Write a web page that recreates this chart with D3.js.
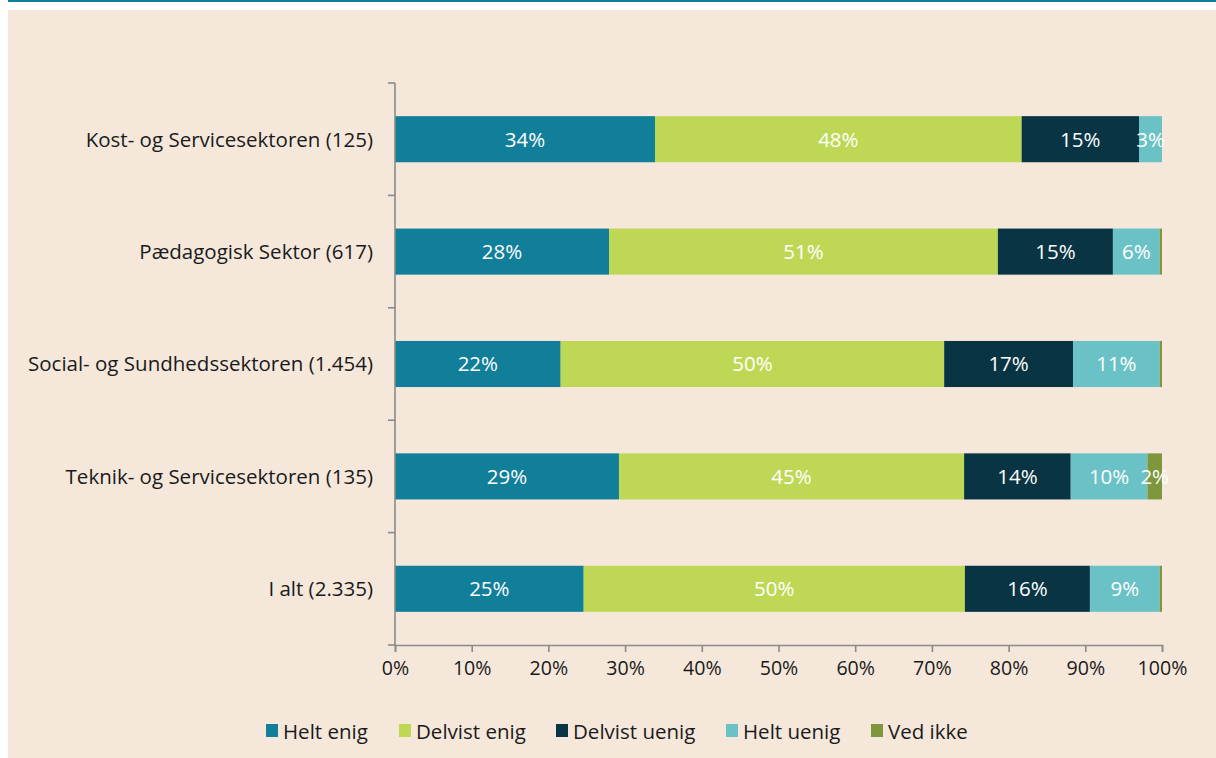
<!doctype html>
<html>
  <head>
    <meta charset="utf-8">
    <script src="https://cdn.jsdelivr.net/npm/d3@7/dist/d3.min.js"></script>
    <style>
      body { margin: 0; background: #fff; }
      text { font-family: "Open Sans", "Noto Sans", sans-serif; }
    </style>
  </head>
  <body>
    <svg width="1216" height="758"></svg>

    <script type="text/javascript">

        var categories = ["Kost- og Servicesektoren (125)", "Pædagogisk Sektor (617)",
            "Social- og Sundhedssektoren (1.454)", "Teknik- og Servicesektoren (135)", "I alt (2.335)"];
        var seriesNames = ["Helt enig", "Delvist enig", "Delvist uenig", "Helt uenig", "Ved ikke"];

        // percent per category
        var heltEnig     = [33.9, 27.9, 21.6, 29.2, 24.6];
        var delvistEnig  = [47.8, 50.7, 50.0, 45.0, 49.7];
        var delvistUenig = [15.3, 15.0, 16.8, 13.9, 16.3];
        var heltUenig    = [3.0, 6.1, 11.3, 10.0, 9.1];
        var vedIkke      = [0, 0.3, 0.3, 1.9, 0.3];

        var xTicks = [0, 10, 20, 30, 40, 50, 60, 70, 80, 90, 100];

        var colors = ["#117e9a", "#bed856", "#083443", "#6ac2c6", "#7f973c"];

        var svg = d3.select("svg");

        // frame: teal rule on top, beige panel
        svg.append("rect").attr("x", 8).attr("y", 0).attr("width", 1208).attr("height", 2).attr("fill", "#0e7f9a");
        svg.append("rect").attr("x", 8).attr("y", 10).attr("width", 1208).attr("height", 748).attr("fill", "#f5e8db");

        var rows = categories.map(function(c, i) {
            return { cat: c, "Helt enig": heltEnig[i], "Delvist enig": delvistEnig[i],
                "Delvist uenig": delvistUenig[i], "Helt uenig": heltUenig[i], "Ved ikke": vedIkke[i] };
        });
        var stacked = d3.stack().keys(seriesNames)(rows);

        var x = d3.scaleLinear().domain([0, 100]).range([395, 1162]);
        var y = d3.scaleBand().domain(categories).range([83, 645])
            .paddingInner(0.59).paddingOuter(0.295);
        var color = d3.scaleOrdinal().domain(seriesNames).range(colors);

        var layers = svg.append("g").selectAll("g")
            .data(stacked)
            .join("g")
            .attr("fill", d => color(d.key));

        layers.selectAll("rect")
            .data(d => d)
            .join("rect")
            .attr("x", d => x(d[0]))
            .attr("y", d => y(d.data.cat))
            .attr("width", d => x(d[1]) - x(d[0]))
            .attr("height", y.bandwidth());

        layers.selectAll("text")
            .data(d => d.filter(v => v[1] - v[0] >= 1))
            .join("text")
            .attr("x", d => (x(d[0]) + x(d[1])) / 2)
            .attr("y", d => y(d.data.cat) + y.bandwidth() / 2)
            .attr("dy", "0.36em")
            .attr("text-anchor", "middle")
            .attr("fill", "#fff")
            .style("font-size", "20.5px")
            .text(d => Math.round(d[1] - d[0]) + "%");

        // x axis
        var xAxis = svg.append("g")
            .attr("transform", "translate(0,645)")
            .call(d3.axisBottom(x).tickValues(xTicks).tickSize(7).tickSizeOuter(7)
                .tickFormat(d => d + "%"));
        xAxis.selectAll("path, line").attr("stroke", "#8a8a8a").attr("stroke-width", 1.6);
        xAxis.selectAll("text").attr("fill", "#1a1a1a").attr("dy", "1.0em").style("font-size", "19.6px");

        // y axis with ticks on the band boundaries
        var step = y.step();
        var bounds = d3.range(categories.length + 1).map(i => y(categories[0]) - step * y.paddingInner() / 2 + i * step);
        var yAxis = svg.append("g");
        yAxis.append("line")
            .attr("x1", x(0)).attr("x2", x(0))
            .attr("y1", bounds[0]).attr("y2", bounds[bounds.length - 1])
            .attr("stroke", "#8a8a8a").attr("stroke-width", 1.6);
        yAxis.selectAll(".tick")
            .data(bounds)
            .join("line")
            .attr("x1", x(0) - 7).attr("x2", x(0))
            .attr("y1", d => d).attr("y2", d => d)
            .attr("stroke", "#8a8a8a").attr("stroke-width", 1.6);
        yAxis.selectAll("text")
            .data(categories)
            .join("text")
            .attr("x", 373)
            .attr("y", d => y(d) + y.bandwidth() / 2)
            .attr("dy", "0.36em")
            .attr("text-anchor", "end")
            .attr("fill", "#1a1a1a")
            .style("font-size", "20.5px")
            .text(d => d);

        // legend
        var legendX = [266, 399, 556, 726, 871];
        var legend = svg.append("g").selectAll("g")
            .data(seriesNames)
            .join("g")
            .attr("transform", (d, i) => `translate(${legendX[i]},724)`);
        legend.append("rect").attr("width", 12).attr("height", 13).attr("fill", d => color(d));
        legend.append("text")
            .attr("x", 17).attr("y", 15)
            .attr("fill", "#1a1a1a")
            .style("font-size", "20.5px")
            .text(d => d);

    </script>
  </body>
</html>
